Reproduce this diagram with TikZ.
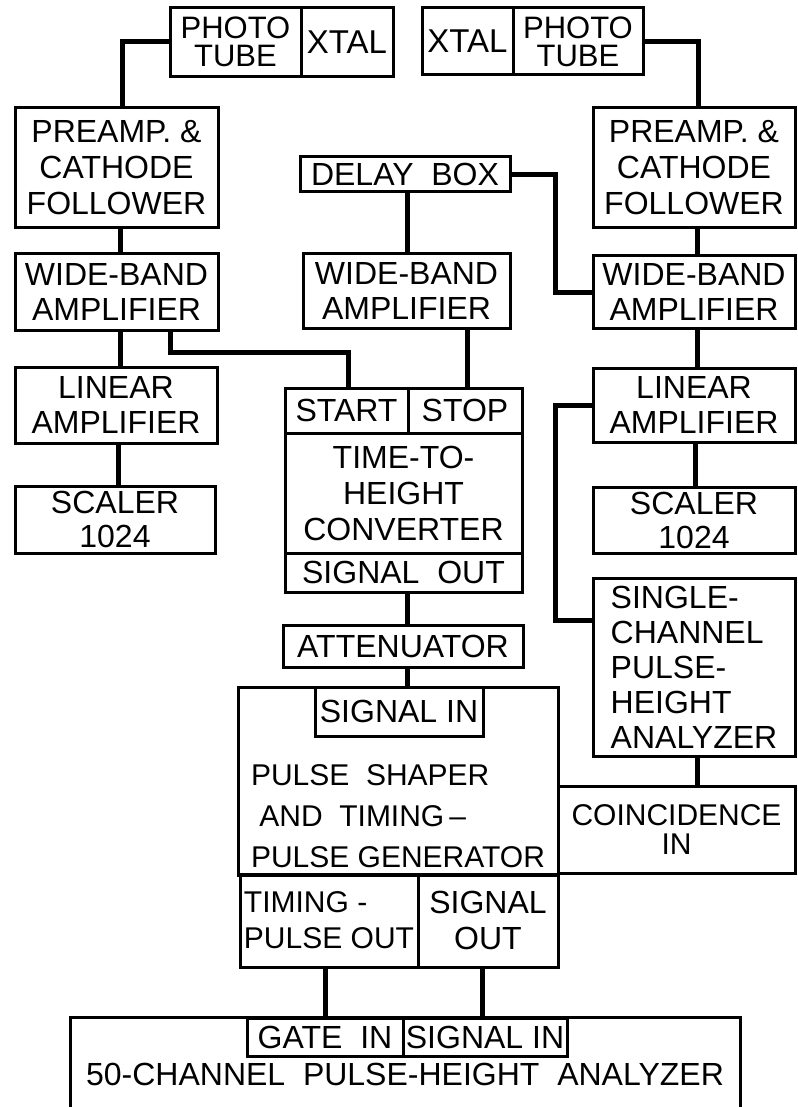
\documentclass[tikz,border=0pt]{standalone}
\usepackage{fontspec}
\setmainfont{Liberation Sans}
\usetikzlibrary{positioning}

\begin{document}
\begin{tikzpicture}[x=1pt,y=-1pt,
		blk/.style 2 args={draw, line width=3pt, minimum width=#1pt, minimum height=#2pt, inner sep=0pt, align=center},
		wire/.style={line width=5pt},
		every node/.style={font=\fontsize{32}{36}\selectfont}]
		\useasboundingbox (0,0) rectangle (797,1107);
		%Photo tubes and crystals
		\node[blk={131}{69}, font=\fontsize{31}{28}\selectfont] (ptL) at (235.5,42) {PHOTO\\TUBE};
		\node[blk={92}{69}, font=\fontsize{33}{36}\selectfont] (xtL) at (347,42) {XTAL};
		\node[blk={91}{67}, font=\fontsize{33}{36}\selectfont] (xtR) at (467.5,41.5) {XTAL};
		\node[blk={130}{67}, font=\fontsize{31}{28}\selectfont] (ptR) at (578,41.5) {PHOTO\\TUBE};
		%Preamps and delay
		\node[blk={203}{120}] (preL) at (116.5,168) {PREAMP. \&\\CATHODE\\FOLLOWER};
		\node[blk={202}{120}] (preR) at (694,168) {PREAMP. \&\\CATHODE\\FOLLOWER};
		\node[blk={210}{35}] (dly) at (405,174.5) {DELAY\ \ BOX};
		%Wide-band amplifiers
		\node[blk={203}{77}, font=\fontsize{32}{35}\selectfont] (wbL) at (116.5,291.5) {WIDE-BAND\\AMPLIFIER};
		\node[blk={207}{75}, font=\fontsize{32}{35}\selectfont] (wbM) at (406.5,290.5) {WIDE-BAND\\AMPLIFIER};
		\node[blk={202}{73}, font=\fontsize{32}{35}\selectfont] (wbR) at (694,292) {WIDE-BAND\\AMPLIFIER};
		%Linear amplifiers and scalers
		\node[blk={202}{76}, font=\fontsize{32}{35}\selectfont] (linL) at (116,405) {LINEAR\\AMPLIFIER};
		\node[blk={202}{74}, font=\fontsize{32}{35}\selectfont] (linR) at (694,405) {LINEAR\\AMPLIFIER};
		\node[blk={200}{67}, font=\fontsize{32}{34}\selectfont] (sclL) at (115,519.5) {SCALER\\1024};
		\node[blk={202}{66}, font=\fontsize{32}{34}\selectfont] (sclR) at (694,520) {SCALER\\1024};
		%Time-to-height converter
		\node[blk={123}{45}] (start) at (346.5,410.5) {START};
		\node[blk={114}{45}] (stop) at (465,410.5) {STOP};
		\node[blk={237}{120}] (thc) at (403.5,493) {TIME-TO-\\HEIGHT\\CONVERTER};
		\node[blk={237}{39}] (thcout) at (403.5,572.5) {SIGNAL\ \ OUT};
		\node[blk={240}{42}] (att) at (403,646) {ATTENUATOR};
		%Pulse shaper
		\node[blk={320}{188}] (psg) at (398,781) {};
		\node[blk={168}{49}] (psin) at (399,711.5) {SIGNAL IN};
		\node[align=left, font=\fontsize{30}{41}\selectfont] (pstx) at (398,816) {PULSE\ \ SHAPER\\\ AND\ \ TIMING\,–\\PULSE\ GENERATOR};
		\node[blk={178}{93}, align=left, font=\fontsize{30}{36}\selectfont] (tpo) at (329,920.5) {TIMING -\\PULSE OUT};
		\node[blk={140}{93}] (sgo) at (488,920.5) {SIGNAL\\OUT};
		%Single-channel analyzer and coincidence
		\node[blk={202}{178}, align=left, font=\fontsize{32}{35}\selectfont] (sca) at (694,667) {SINGLE-\\CHANNEL\\PULSE-\\HEIGHT\\ANALYZER};
		\node[blk={237}{87}, font=\fontsize{30}{29}\selectfont] (coin) at (676.5,829.5) {COINCIDENCE\\IN};
		%50-channel analyzer, open at the bottom
		\node[inner sep=0pt, minimum width=669pt, minimum height=89pt] (pha) at (405.5,1062.5) {};
		\draw[line width=3pt] (pha.south west) -- (pha.north west) -- (pha.north east) -- (pha.south east);
		\node[blk={156}{38}] (gate) at (325,1037) {GATE\ \ IN};
		\node[blk={164}{38}] (phin) at (485,1037) {SIGNAL IN};
		\node (phtx) at (405,1074) {50-CHANNEL\ \ PULSE-HEIGHT\ \ ANALYZER};
		%Connections
		\draw[wire] (ptL.west) -| (preL.north -| 122,0);
		\draw[wire] (ptR.east) -| (preR.north -| 698,0);
		\foreach \a/\b/\x in {preL/wbL/120, wbL/linL/120, linL/sclL/118, preR/wbR/697, wbR/linR/697, linR/sclR/695, dly/wbM/407, wbM/stop/467, thcout/att/407, att/psin/407, sca/coin/697, tpo/gate/325, sgo/phin/482}
		\draw[wire] (\a.south -| \x,0) -- (\b.north -| \x,0);
		\coordinate (bendL) at (170,352);
		\draw[wire] (wbL.south -| bendL) -- (bendL) -| (start.north -| 348,0);
		\draw[wire] (dly.east) -| (wbR.west -| 555,0) -- (wbR.west);
		\draw[wire] (linR.west) -- (linR.west -| 555,0) |- (sca.west |- 0,620);
\end{tikzpicture}
\end{document}
